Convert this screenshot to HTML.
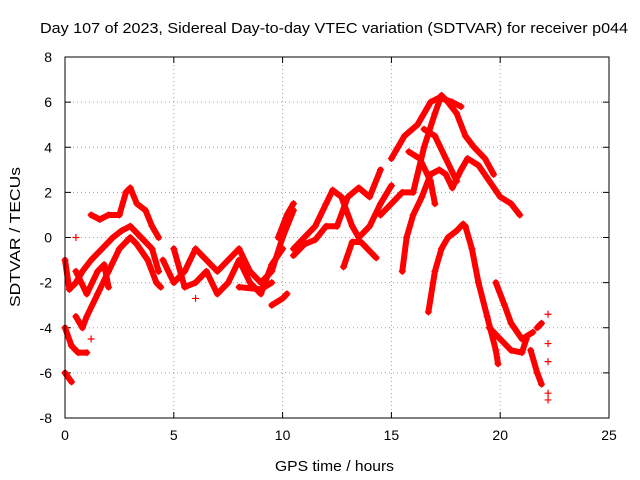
<!DOCTYPE html>
<html><head><meta charset="utf-8"><style>
body{margin:0;background:#fff}
svg{display:block;font-family:"Liberation Sans",sans-serif}
</style></head><body>
<svg id="chart" width="640" height="480" viewBox="0 0 640 480">
<rect width="640" height="480" fill="#fff"/>
<text x="40" y="33" font-size="15" textLength="588" lengthAdjust="spacingAndGlyphs">Day 107 of 2023, Sidereal Day-to-day VTEC variation (SDTVAR) for receiver p044</text>
<g id="grid"></g>
<g id="ticks"></g>
<g id="marks"></g>
<rect x="65" y="57" width="544" height="361" fill="none" stroke="#000" stroke-width="1"/>
<text x="275" y="471" font-size="15" textLength="119" lengthAdjust="spacingAndGlyphs">GPS time / hours</text>
<text x="0" y="0" font-size="15" textLength="140" lengthAdjust="spacingAndGlyphs" transform="translate(20 307) rotate(-90)">SDTVAR / TECUs</text>
</svg>
<script>
const xTicks=[0,5,10,15,20,25];
const yTicks=[-8,-6,-4,-2,0,2,4,6,8];
const tracks=[
[[0,-4],[0.3,-4.8],[0.6,-5.1],[1.0,-5.1]],
[[0,-6],[0.3,-6.4]],
[[0,-1],[0.2,-2.3],[0.5,-2],[0.8,-1.5],[1.2,-1],[1.7,-0.5],[2.2,0],[2.6,0.3],[3,0.5],[3.5,0],[4,-0.5],[4.3,-1.5]],
[[0.5,-3.5],[0.8,-4],[1.0,-3.5],[1.5,-2.5],[2,-1.5],[2.5,-0.5],[3,0],[3.3,-0.3],[3.8,-1],[4.2,-2],[4.4,-2.2]],
[[1.2,1],[1.6,0.8],[2,1],[2.5,1],[2.8,2],[3,2.2],[3.3,1.5],[3.7,1.2],[4,0.5],[4.3,0]],
[[0.5,-1.5],[1,-2.5],[1.5,-1.5],[1.8,-1.2],[2,-2.2]],
[[4.5,-1],[5,-2],[5.5,-1.5],[6,-0.5],[6.5,-1],[7,-1.5],[7.5,-1],[8,-0.5],[8.5,-1.5],[9,-2],[9.5,-1.5],[10,0],[10.5,1.2]],
[[5,-0.5],[5.5,-2.2],[6,-2],[6.5,-1.5],[7,-2.5],[7.5,-2],[8,-1],[8.5,-2],[9,-2.5],[9.5,-1.2],[10,-0.5]],
[[9.5,-3],[10,-2.7],[10.2,-2.5]],
[[9.8,0],[10.2,1],[10.5,1.5]],
[[8,-2.2],[9,-2.3],[9.5,-2]],
[[10.5,-0.5],[11,0],[11.5,0.5],[12,1.5],[12.3,2.1],[12.7,1.8],[13.2,0.5],[13.5,0],[14,0.5],[14.5,1.5],[15,2.3]],
[[10.5,-0.8],[11,-0.3],[11.5,-0.1],[12,0.5],[12.5,0.5],[13,1.8],[13.5,2.2],[14,1.8],[14.5,3]],
[[12.8,-1.3],[13.2,-0.2],[13.6,-0.2],[14,-0.6],[14.3,-0.9]],
[[14.5,1],[15,1.5],[15.5,2],[16,2],[16.5,4],[17,5.5],[17.3,6.3],[17.6,6],[18,5.5],[18.4,4.5],[18.8,4],[19.3,3.5],[19.7,2.8]],
[[15,3.5],[15.6,4.5],[16.2,5],[16.8,6],[17.2,6.2],[17.8,6],[18.2,5.8]],
[[15.5,-1.5],[15.7,0],[16,1],[16.4,1.8],[16.8,2.8],[17.2,3],[17.5,2.8],[17.8,2.2],[18.2,3],[18.5,3.5],[19,3.2],[19.5,2.5],[20,1.8],[20.5,1.5],[20.9,1]],
[[15.8,3.8],[16.3,3.5],[16.8,2.5],[17,1.5]],
[[16.5,4.8],[17,4.5],[17.5,3.5],[18,2.5]],
[[16.7,-3.3],[17,-1.5],[17.3,-0.5],[17.6,0],[18,0.3],[18.3,0.6]],
[[18.4,0.5],[18.7,-0.5],[19,-2],[19.4,-3.5],[19.8,-5],[19.9,-5.6]],
[[19.5,-4],[20,-4.5],[20.5,-5],[21,-5.1],[21.2,-4.5]],
[[19.8,-2],[20.2,-3],[20.5,-3.8],[21,-4.5],[21.5,-4.2]],
[[21.4,-5],[21.7,-6],[21.9,-6.5]],
[[21.7,-4],[21.9,-3.8]]
];
const isolated=[[22.2,-3.4],[22.2,-4.7],[22.2,-5.5],[22.2,-6.9],[22.2,-7.2],[6,-2.7],[1.2,-4.5],[0.5,0]];
const X0=65,X1=609,Y0=418,Y1=57;
function sx(v){return X0+(v-0)/(25-0)*(X1-X0);}
function sy(v){return Y0-(v+8)/16*(Y0-Y1);}
const NS='http://www.w3.org/2000/svg';
function mk(t,a,p){const e=document.createElementNS(NS,t);for(const k in a)e.setAttribute(k,a[k]);p.appendChild(e);return e;}
const grid=document.getElementById('grid'),ticks=document.getElementById('ticks'),marks=document.getElementById('marks');
xTicks.forEach(v=>{const x=sx(v);
 if(v>0&&v<25){const g=mk('line',{x1:x,x2:x,y1:Y1,y2:Y0,stroke:'#a0a0a0','stroke-dasharray':'1,3'},grid);}
 mk('line',{x1:x,x2:x,y1:Y0,y2:Y0-6,stroke:'#000'},ticks);mk('line',{x1:x,x2:x,y1:Y1,y2:Y1+6,stroke:'#000'},ticks);
 const t=mk('text',{x:x,y:Y0+22,'font-size':14,'text-anchor':'middle'},ticks);t.textContent=v;
 });
yTicks.forEach(v=>{const y=sy(v);
 if(v>-8&&v<8){const g=mk('line',{x1:X0,x2:X1,y1:y,y2:y,stroke:'#a0a0a0','stroke-dasharray':'1,3'},grid);}
 mk('line',{x1:X0,x2:X0+6,y1:y,y2:y,stroke:'#000'},ticks);mk('line',{x1:X1,x2:X1-6,y1:y,y2:y,stroke:'#000'},ticks);
 const t=mk('text',{x:X0-13,y:y+5,'font-size':14,'text-anchor':'end'},ticks);t.textContent=v;
 });
function plus(x,y,name){const p=mk('path',{d:`M${x-3.5},${y}h7M${x},${y-3.5}v7`,stroke:'#f00','stroke-width':1.2},marks);
 }
tracks.forEach((tr,i)=>{
 const pl=mk('polyline',{points:tr.map(p=>sx(p[0])+','+sy(p[1])).join(' '),fill:'none',stroke:'#f00','stroke-width':6,'stroke-linejoin':'round','stroke-linecap':'round'},marks);
 
 
 tr.forEach(p=>plus(sx(p[0]),sy(p[1]),'track-point'));
});
isolated.forEach(p=>plus(sx(p[0]),sy(p[1]),'isolated-point'));
</script>
</body></html>
